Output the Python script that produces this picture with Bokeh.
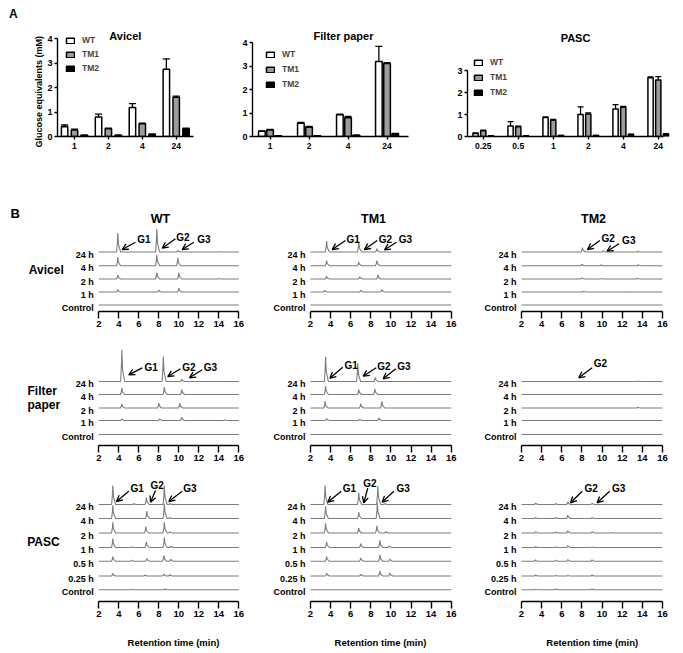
from bokeh.plotting import figure
from bokeh.layouts import column, row
from bokeh.models import (ColumnDataSource, Label, Arrow, OpenHead, Whisker, TeeHead, Title,
                          FixedTicker, Range1d, Legend, LegendItem)
from bokeh.embed import file_html
from bokeh.resources import INLINE

FONT = "Liberation Sans"

# ===================== DATA: panel A (glucose equivalents, mM) =====================
avicel_times = ["1", "2", "4", "24"]
avicel_wt = [0.40, 0.80, 1.18, 2.75]
avicel_wt_err = [0.07, 0.11, 0.16, 0.42]
avicel_tm1 = [0.27, 0.32, 0.52, 1.60]
avicel_tm1_err = [0.03, 0.02, 0.03, 0.05]
avicel_tm2 = [0.05, 0.05, 0.09, 0.32]
avicel_tm2_err = [0.01, 0.01, 0.01, 0.02]

fp_times = ["1", "2", "4", "24"]
fp_wt = [0.22, 0.57, 0.93, 3.20]
fp_wt_err = [0.02, 0.03, 0.03, 0.65]
fp_tm1 = [0.28, 0.40, 0.80, 3.12]
fp_tm1_err = [0.02, 0.03, 0.06, 0.04]
fp_tm2 = [0.03, 0.03, 0.05, 0.12]
fp_tm2_err = [0.01, 0.01, 0.01, 0.01]

pasc_times = ["0.25", "0.5", "1", "2", "4", "24"]
pasc_wt = [0.14, 0.48, 0.86, 1.00, 1.25, 2.67]
pasc_wt_err = [0.02, 0.20, 0.03, 0.35, 0.20, 0.04]
pasc_tm1 = [0.26, 0.44, 0.74, 1.02, 1.33, 2.57]
pasc_tm1_err = [0.03, 0.03, 0.04, 0.05, 0.04, 0.15]
pasc_tm2 = [0.03, 0.03, 0.04, 0.04, 0.09, 0.11]
pasc_tm2_err = [0.01, 0.01, 0.01, 0.01, 0.02, 0.02]

series_names = ["WT", "TM1", "TM2"]

# ===================== DATA: panel B (HPLC peaks: retention time min, height) =====================
samples_short = ["Control", "1 h", "2 h", "4 h", "24 h"]
samples_pasc = ["Control", "0.25 h", "0.5 h", "1 h", "2 h", "4 h", "24 h"]

avicel_wt_peaks = {
    "Control": [],
    "1 h": [(3.9, 2.5), (8.0, 2.0), (10.0, 4.0)],
    "2 h": [(3.9, 4.0), (7.8, 6.5), (10.0, 6.5), (14.0, 0.7)],
    "4 h": [(3.9, 8.5), (7.8, 11.0), (9.9, 8.0)],
    "24 h": [(3.9, 19.0), (7.8, 23.0), (9.9, 1.5), (14.0, 0.5)],
}
avicel_tm1_peaks = {
    "Control": [],
    "1 h": [(3.4, 1.7), (7.0, 1.7), (9.1, 2.4)],
    "2 h": [(3.6, 2.7), (6.9, 2.3), (8.7, 4.3)],
    "4 h": [(3.6, 5.0), (6.8, 3.5), (8.6, 5.0)],
    "24 h": [(3.6, 11.0), (6.8, 10.0), (8.6, 3.4)],
}
avicel_tm2_peaks = {
    "Control": [],
    "1 h": [(8.2, 0.8), (12.5, 0.3)],
    "2 h": [(8.0, 1.2), (10.0, 0.5), (13.5, 0.8)],
    "4 h": [(8.0, 1.5), (9.9, 0.7), (13.6, 1.0)],
    "24 h": [(8.05, 4.3), (10.1, 1.3), (13.6, 0.8)],
}
fp_wt_peaks = {
    "Control": [],
    "1 h": [(4.3, 1.7), (8.1, 1.7), (10.3, 3.3), (14.6, 0.8)],
    "2 h": [(4.3, 4.0), (8.0, 5.0), (10.1, 5.0)],
    "4 h": [(4.3, 6.7), (8.55, 7.3), (10.3, 5.0)],
    "24 h": [(4.3, 31.7), (8.45, 25.0), (10.3, 2.3)],
}
fp_tm1_peaks = {
    "Control": [],
    "1 h": [(3.6, 2.0), (6.9, 1.3), (8.8, 2.7)],
    "2 h": [(3.45, 6.7), (7.0, 4.3), (9.1, 6.7)],
    "4 h": [(3.5, 8.3), (6.8, 5.0), (8.4, 5.7)],
    "24 h": [(3.5, 24.7), (6.7, 18.3), (8.45, 4.0)],
}
fp_tm2_peaks = {
    "Control": [],
    "1 h": [],
    "2 h": [(13.6, 0.8)],
    "4 h": [],
    "24 h": [(13.6, 0.7)],
}
pasc_wt_peaks = {
    "Control": [(5.3, 0.4), (8.6, 0.7)],
    "0.25 h": [(3.4, 2.7), (6.6, 1.0), (8.5, 2.0), (9.1, 1.5)],
    "0.5 h": [(3.4, 4.7), (5.3, 1.0), (6.8, 2.7), (8.5, 5.7), (9.2, 2.0)],
    "1 h": [(3.4, 9.0), (5.3, 0.7), (6.75, 5.7), (8.55, 10.0), (9.2, 1.5)],
    "2 h": [(3.4, 10.7), (6.7, 6.3), (8.55, 10.7), (9.1, 1.3)],
    "4 h": [(3.4, 13.3), (6.8, 7.3), (8.55, 15.0), (9.1, 1.0)],
    "24 h": [(3.4, 19.0), (5.5, 1.0), (6.75, 7.0), (8.55, 19.0), (9.1, 1.0)],
}
pasc_tm1_peaks = {
    "Control": [],
    "0.25 h": [(3.6, 3.0), (7.0, 1.7), (8.9, 5.0), (9.9, 3.0)],
    "0.5 h": [(3.6, 4.7), (7.0, 3.3), (8.9, 6.3), (9.9, 2.3)],
    "1 h": [(3.6, 5.7), (7.0, 4.0), (8.9, 7.3), (9.8, 1.7)],
    "2 h": [(3.5, 9.7), (6.8, 5.0), (8.6, 7.3), (9.5, 1.5)],
    "4 h": [(3.5, 12.3), (6.8, 6.3), (8.65, 15.7)],
    "24 h": [(3.45, 19.0), (6.8, 11.7), (8.7, 18.3), (9.4, 1.0)],
}
pasc_tm2_peaks = {
    "Control": [(3.4, 0.5), (5.4, 0.7), (9.0, 0.7)],
    "0.25 h": [(3.4, 1.0), (5.4, 0.7), (6.6, 0.7), (9.0, 1.0)],
    "0.5 h": [(3.4, 1.3), (5.4, 1.0), (6.6, 1.7), (9.0, 1.3)],
    "1 h": [(3.4, 1.0), (5.4, 0.7), (6.6, 2.0), (9.0, 0.7)],
    "2 h": [(3.4, 1.3), (5.4, 1.0), (6.6, 2.3), (9.0, 1.3), (11.0, 0.5)],
    "4 h": [(3.4, 1.0), (5.4, 1.0), (6.6, 3.3), (9.0, 1.0)],
    "24 h": [(3.4, 1.5), (5.4, 1.0), (6.6, 2.7), (9.0, 1.3)],
}
rt_ticks = [2, 4, 6, 8, 10, 12, 14, 16]

# ===================== STYLE / LAYOUT =====================
TRACE = "#7d7d7d"
BAR_COLORS = ["white", "#9c9c9c", "black"]
ROW_A_H = 175
ROW_A_FB = 136   # frame bottom (x-axis line) for all of row A


def style_axis(ax, size="9px", tick_out=3, standoff=2):
    ax.axis_line_color = "black"
    ax.axis_line_width = 1.4
    ax.major_tick_line_color = "black"
    ax.major_tick_line_width = 1.4
    ax.major_tick_out = tick_out
    ax.major_tick_in = 0
    ax.minor_tick_line_color = None
    ax.major_label_text_font = FONT
    ax.major_label_text_font_style = "bold"
    ax.major_label_text_font_size = size
    ax.major_label_text_color = "black"
    ax.major_label_standoff = standoff


def txt(p, x, y, text, size, align="left", baseline="middle"):
    p.add_layout(Label(x=x, y=y, text=text, text_font=FONT, text_font_style="bold",
                       text_font_size=size, text_align=align, text_baseline=baseline,
                       text_color="black"))


def blank(width, height, bottom=0):
    p = figure(width=width, height=height, x_range=Range1d(0, width),
               y_range=Range1d(bottom, height),
               x_axis_type=None, y_axis_type=None, output_backend="svg", toolbar_location=None,
               min_border_left=0, min_border_right=0, min_border_top=0, min_border_bottom=bottom)
    p.outline_line_color = None
    p.grid.grid_line_color = None
    return p


def bar_panel(times, vals, errs, g):
    fl = g["frame_left"] - g["canvas_left"]
    fb = ROW_A_H - ROW_A_FB
    W = g["canvas_width"]
    H = ROW_A_H
    x_end = (W - fl) / g["ppx"]
    ppy = (ROW_A_FB - g["ytop_px"]) / g["ymax"]
    y_end = (H - fb) / ppy
    p = figure(width=W, height=H, x_range=Range1d(0, x_end), y_range=Range1d(0, y_end),
               output_backend="svg", toolbar_location=None,
               min_border_left=fl, min_border_right=0, min_border_top=0, min_border_bottom=fb)
    p.outline_line_color = None
    p.grid.grid_line_color = None
    centers = [i + g["c0"] for i in range(len(times))]
    items = []
    for k in range(3):
        xs = [c + (k - 1) * g["off"] for c in centers]
        src = ColumnDataSource(dict(x=xs, top=vals[k],
                                    up=[v + e for v, e in zip(vals[k], errs[k])]))
        w = Whisker(source=src, base="x", lower="top", upper="up", dimension="height",
                    line_color="black", line_width=1.3, lower_head=None,
                    upper_head=TeeHead(size=g["cap"], line_width=1.3, line_color="black"))
        p.add_layout(w)
        r = p.vbar(x="x", top="top", width=g["bw"], source=src, fill_color=BAR_COLORS[k],
                   line_color="black", line_width=1.5)
        items.append(LegendItem(label=series_names[k], renderers=[r]))
    leg = Legend(items=items, location=g["leg"], orientation="vertical", glyph_width=10,
                 glyph_height=7, label_height=12, spacing=g["leg_sp"], padding=0, margin=0,
                 label_standoff=7, label_text_font=FONT, label_text_font_style="bold",
                 label_text_font_size="8.5px", border_line_color=None, background_fill_alpha=0)
    p.add_layout(leg)
    p.xaxis.ticker = FixedTicker(ticks=centers)
    p.xaxis.major_label_overrides = {c: t for c, t in zip(centers, times)}
    p.xaxis.bounds = (0, g["x_axis_end"])
    p.yaxis.bounds = (0, g["ymax"])
    p.yaxis.ticker = FixedTicker(ticks=list(range(0, g["ymax"] + 1)))
    style_axis(p.xaxis[0], size="8.5px", tick_out=3, standoff=3)
    style_axis(p.yaxis[0], size="9px", tick_out=3, standoff=2)
    tx, ty = g["title_px"]
    txt(p, (tx - g["frame_left"]) / g["ppx"], (ROW_A_FB - ty) / ppy, g["title"], "11px",
        align="center")
    return p


gA1 = dict(canvas_left=30, canvas_width=200, frame_left=54, ppx=34.5, ytop_px=38,
           c0=0.5, off=0.29, bw=0.19, cap=7, x_axis_end=4, ymax=4, leg=(8, 62), leg_sp=2,
           title="Avicel", title_px=(123, 35))
gA2 = dict(canvas_left=230, canvas_width=210, frame_left=252, ppx=39.0, ytop_px=42.4,
           c0=0.45, off=0.21, bw=0.17, cap=7, x_axis_end=4, ymax=4, leg=(13, 46),
           leg_sp=3, title="Filter paper", title_px=(343, 35))
gA3 = dict(canvas_left=440, canvas_width=240, frame_left=467, ppx=35.0, ytop_px=70,
           c0=0.45, off=0.22, bw=0.15, cap=6, x_axis_end=5.6, ymax=3, leg=(6, 38),
           leg_sp=3, title="PASC", title_px=(575, 37))

fbA = ROW_A_H - ROW_A_FB
a0 = blank(30, ROW_A_H, bottom=fbA)
txt(a0, 8.5, ROW_A_H - 13, "A", "12px")

a1 = bar_panel(avicel_times, [avicel_wt, avicel_tm1, avicel_tm2],
               [avicel_wt_err, avicel_tm1_err, avicel_tm2_err], gA1)
a1.add_layout(Title(text="Glucose equivalents (mM)", align="left", offset=-11, standoff=2,
                    text_font=FONT, text_font_style="bold", text_font_size="9px",
                    text_color="black"), "left")
a2 = bar_panel(fp_times, [fp_wt, fp_tm1, fp_tm2], [fp_wt_err, fp_tm1_err, fp_tm2_err], gA2)
a3 = bar_panel(pasc_times, [pasc_wt, pasc_tm1, pasc_tm2],
               [pasc_wt_err, pasc_tm1_err, pasc_tm2_err], gA3)

# ---------------- panel B ----------------
COLS = [dict(left=0, width=245, x2=98.3, ppm=10.0),
        dict(left=245, width=215, x2=310.0, ppm=10.05),
        dict(left=460, width=220, x2=521.0, ppm=10.07)]
ROWS = [dict(top=175, bottom=335, axis=311, offsets=[6.5, 19.5, 32.5, 45.8, 59.5]),
        dict(top=335, bottom=470, axis=445, offsets=[11, 25, 37.5, 51, 64]),
        dict(top=470, bottom=628, axis=601, offsets=[11.8, 25.5, 40.3, 54, 68.5, 83, 97])]


def trace(pk):
    xs, ys = [2.0], [0.0]
    for t, h in sorted(pk):
        xs += [t - 0.12, t - 0.04, t, t + 0.07, t + 0.28]
        ys += [0.0, h * 0.5, h, h * 0.4, 0.0]
    xs.append(16.0)
    ys.append(0.0)
    return xs, ys


def chrom_panel(samples, peaks, col, rg, marks):
    W = col["width"]
    H = rg["bottom"] - rg["top"]
    x0 = 2 - (col["x2"] - col["left"]) / col["ppm"]
    x1 = x0 + W / col["ppm"]
    p = figure(width=W, height=H, x_range=Range1d(x0, x1), y_range=Range1d(0, rg["axis"] - rg["top"]),
               y_axis_type=None, output_backend="svg", toolbar_location=None,
               min_border_left=0, min_border_right=0, min_border_top=0,
               min_border_bottom=rg["bottom"] - rg["axis"])
    p.outline_line_color = None
    p.grid.grid_line_color = None
    p.xaxis.ticker = FixedTicker(ticks=rt_ticks)
    p.xaxis.bounds = (2, 16)
    style_axis(p.xaxis[0], size="9.5px", tick_out=7, standoff=2)
    p.xaxis.axis_line_width = 1.3
    for s, off in zip(samples, rg["offsets"]):
        xs, ys = trace(peaks[s])
        p.line(xs, [y + off for y in ys], line_color=TRACE, line_width=1.1)
        txt(p, 2 - 5 / col["ppm"], off - 2.5, s, "9px", align="right")
    for (t, hx, hy, tx, ty, lx, ly) in marks:
        p.add_layout(Arrow(x_start=tx, y_start=ty, x_end=hx, y_end=hy, line_color="black",
                           line_width=1.3,
                           end=OpenHead(size=6, line_width=1.3, line_color="black")))
        txt(p, lx, ly, t, "10px")
    px2x = lambda X: 2 + (X - col["x2"]) / col["ppm"]
    px2y = lambda Y: rg["axis"] - Y
    return p, px2x, px2y


b11, bx, by = chrom_panel(samples_short, avicel_wt_peaks, COLS[0], ROWS[0],
                          [("G1", 4.34, 62, 5.67, 69.3, 5.84, 72),
                           ("G2", 8.34, 63.3, 9.67, 72.7, 9.74, 74),
                           ("G3", 10.34, 62, 11.5, 69.3, 11.84, 72)])
txt(b11, bx(10), by(213), "B", "13px")
txt(b11, bx(160), by(218), "WT", "12.5px", align="center")
txt(b11, bx(28.3), by(269), "Avicel", "12px")
b12, bx, by = chrom_panel(samples_short, avicel_tm1_peaks, COLS[1], ROWS[0],
                          [("G1", 4.16, 62, 5.48, 71, 5.58, 72),
                           ("G2", 7.37, 62, 8.64, 71, 8.8, 72),
                           ("G3", 9.36, 61.7, 10.56, 69.3, 10.79, 72)])
txt(b12, bx(373), by(218), "TM1", "12.5px", align="center")
b13, bx, by = chrom_panel(samples_short, avicel_tm2_peaks, COLS[2], ROWS[0],
                          [("G2", 8.55, 62, 9.78, 71, 9.94, 72.7),
                           ("G3", 10.5, 60.3, 11.69, 67.7, 11.99, 71)])
txt(b13, bx(593), by(218), "TM2", "12.5px", align="center")

b21, bx, by = chrom_panel(samples_short, fp_wt_peaks, COLS[0], ROWS[1],
                          [("G1", 5.0, 70.7, 6.34, 77.7, 6.57, 78.3),
                           ("G2", 8.9, 69, 10.17, 76.7, 10.34, 78.3),
                           ("G3", 11.07, 67.7, 12.34, 75.7, 12.5, 77.7)])
txt(b21, bx(27), by(390), "Filter", "12px")
txt(b21, bx(27), by(404), "paper", "12px")
b22, _, _ = chrom_panel(samples_short, fp_tm1_peaks, COLS[1], ROWS[1],
                        [("G1", 3.92, 67.3, 5.21, 78.3, 5.38, 80),
                         ("G2", 7.24, 69.3, 8.54, 77.7, 8.64, 79),
                         ("G3", 9.23, 66.7, 10.49, 76.7, 10.63, 79)])
b23, _, _ = chrom_panel(samples_short, fp_tm2_peaks, COLS[2], ROWS[1],
                        [("G2", 7.69, 67.7, 9.02, 77.7, 9.17, 81.7)])

b31, bx, by = chrom_panel(samples_pasc, pasc_wt_peaks, COLS[0], ROWS[2],
                          [("G1", 3.77, 100, 5.0, 110.3, 5.17, 112.7),
                           ("G2", 7.17, 99.3, 7.67, 111, 7.17, 116),
                           ("G3", 9.0, 100, 10.34, 110.3, 10.44, 112.7)])
txt(b31, bx(26.7), by(541.7), "PASC", "12px")
b32, _, _ = chrom_panel(samples_pasc, pasc_tm1_peaks, COLS[1], ROWS[2],
                        [("G1", 3.72, 99.3, 5.05, 110.3, 5.21, 112.7),
                         ("G2", 7.3, 98.7, 7.7, 113.3, 7.24, 117.7),
                         ("G3", 9.13, 99.3, 10.29, 110.3, 10.55, 112.7)])
b33, _, _ = chrom_panel(samples_pasc, pasc_tm2_peaks, COLS[2], ROWS[2],
                        [("G2", 6.87, 98.7, 8.03, 110.3, 8.26, 112.7),
                         ("G3", 9.51, 98.7, 10.76, 110.3, 10.98, 112.7)])

STRIP_TOP, STRIP_H = 628, 22
strip = blank(680, STRIP_H)
for cx in (173, 380, 591.7):
    txt(strip, cx, STRIP_TOP + STRIP_H - 642, "Retention time (min)", "9.5px", align="center")

layout = column(row(a0, a1, a2, a3), row(b11, b12, b13), row(b21, b22, b23),
                row(b31, b32, b33), strip)
open("out.html", "w").write(file_html(layout, INLINE))
